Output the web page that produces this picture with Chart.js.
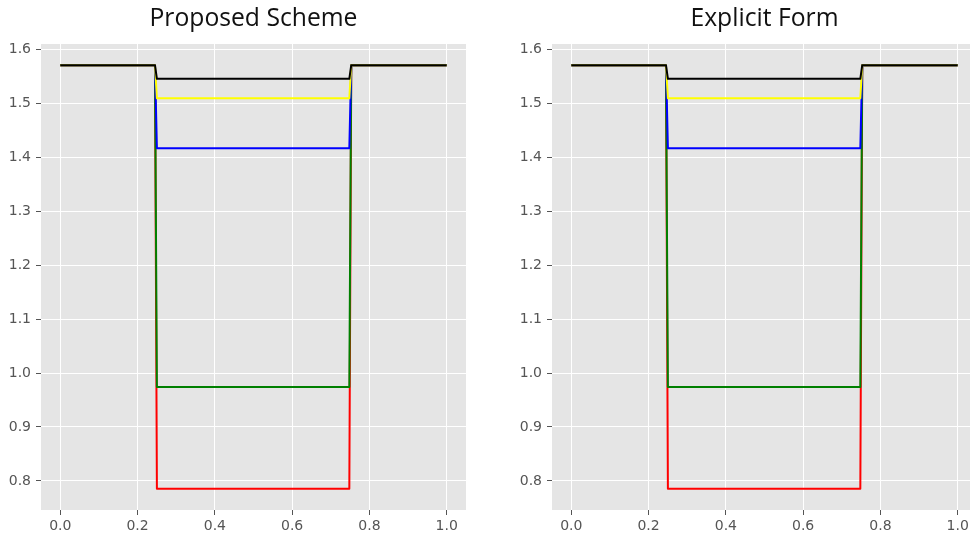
<!DOCTYPE html>
<html>
<head>
<meta charset="utf-8">
<script src="https://cdn.jsdelivr.net/npm/chart.js@4.4.1/dist/chart.umd.min.js"></script>
<style>
  html, body { margin: 0; padding: 0; background: #fff; overflow: hidden; width: 970px; height: 541px; }
  .panel { position: absolute; top: 0; width: 480px; height: 541px; }
  .panel canvas { position: absolute; left: 0; top: 0; }
  .ttl { position: absolute; top: 0; left: 41px; width: 425px; text-align: center;
         font-family: "Open Sans", "Noto Sans", sans-serif; font-size: 24.7px; color: #111;
         line-height: 34px; }
</style>
</head>
<body>
<div class="panel" style="left:0px">
  <canvas id="c1" width="480" height="541"></canvas>
  <div class="ttl">Proposed Scheme</div>
</div>
<div class="panel" style="left:511px">
  <canvas id="c2" width="480" height="541"></canvas>
  <div class="ttl">Explicit Form</div>
</div>
<script>
// Sample positions along x (the profile jumps near 0.25 and 0.75)
const xPoints = [0.0, 0.245, 0.25, 0.748, 0.753, 1.0];

// Profile levels for each curve, one value per x position
const redValues    = [1.5708, 1.5708, 0.7854, 0.7854, 1.5708, 1.5708];
const greenValues  = [1.5708, 1.5708, 0.9740, 0.9740, 1.5708, 1.5708];
const blueValues   = [1.5708, 1.5708, 1.4167, 1.4167, 1.5708, 1.5708];
const yellowValues = [1.5708, 1.5708, 1.5094, 1.5094, 1.5708, 1.5708];
const blackValues  = [1.5708, 1.5708, 1.5455, 1.5455, 1.5708, 1.5708];

// Axis ticks
const xTicks = [0.0, 0.2, 0.4, 0.6, 0.8, 1.0];
const yTicks = [0.8, 0.9, 1.0, 1.1, 1.2, 1.3, 1.4, 1.5, 1.6];

const series = [
  { values: redValues,    color: "#ff0000", order: 5 },
  { values: greenValues,  color: "#008000", order: 4 },
  { values: blueValues,   color: "#0000ff", order: 3 },
  { values: yellowValues, color: "#ffff00", order: 2 },
  { values: blackValues,  color: "#000000", order: 1 }
];

const plotBackground = {
  id: "plotBackground",
  beforeDraw(chart) {
    const a = chart.chartArea, ctx = chart.ctx;
    ctx.save();
    ctx.fillStyle = "#e5e5e5";
    ctx.fillRect(a.left, a.top, a.right - a.left, a.bottom - a.top);
    ctx.restore();
  }
};

const tickFont = { family: "'DejaVu Sans', sans-serif", size: 14 };

function buildChart(id) {
  return new Chart(document.getElementById(id), {
    type: "line",
    data: {
      datasets: series.map(s => ({
        data: xPoints.map((x, i) => ({ x: x, y: s.values[i] })),
        borderColor: s.color,
        borderWidth: 2,
        pointRadius: 0,
        tension: 0,
        fill: false,
        order: s.order,
        borderJoinStyle: "round"
      }))
    },
    options: {
      responsive: false,
      animation: false,
      layout: { padding: { top: 44, right: 14, left: 0, bottom: 0 } },
      plugins: { legend: { display: false }, tooltip: { enabled: false }, title: { display: false } },
      scales: {
        x: {
          type: "linear",
          min: -0.05, max: 1.05,
          afterBuildTicks: s => { s.ticks = xTicks.map(v => ({ value: v })); },
          afterFit: s => { s.height = 31; },
          ticks: { font: tickFont, color: "#555", padding: 3, maxRotation: 0,
                   callback: v => Number(v).toFixed(1) },
          grid: { color: "#ffffff", lineWidth: 1, tickColor: "#555", tickLength: 5 },
          border: { display: false }
        },
        y: {
          type: "linear",
          min: 0.7461, max: 1.6101,
          afterBuildTicks: s => { s.ticks = yTicks.map(v => ({ value: v })); },
          afterFit: s => { s.width = 41; },
          ticks: { font: tickFont, color: "#555", padding: 5,
                   callback: v => Number(v).toFixed(1) },
          grid: { color: "#ffffff", lineWidth: 1, tickColor: "#555", tickLength: 5 },
          border: { display: false }
        }
      }
    },
    plugins: [plotBackground]
  });
}

buildChart("c1");
buildChart("c2");
</script>
</body>
</html>
